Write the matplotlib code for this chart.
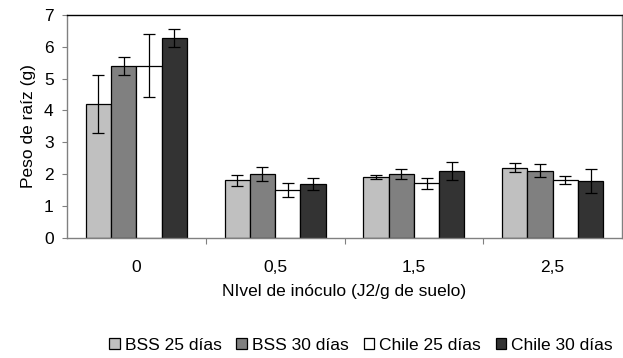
import numpy as np
import matplotlib
matplotlib.use("Agg")
import matplotlib.pyplot as plt

plt.rcParams['font.family'] = ['Liberation Sans', 'DejaVu Sans']

categories = ['0', '0,5', '1,5', '2,5']
series = ['BSS 25 días', 'BSS 30 días', 'Chile 25 días', 'Chile 30 días']
values = [
    [4.2, 1.8, 1.9, 2.2],
    [5.4, 2.0, 2.0, 2.1],
    [5.4, 1.5, 1.7, 1.8],
    [6.27, 1.68, 2.1, 1.77],
]
errors = [
    [0.92, 0.17, 0.07, 0.14],
    [0.28, 0.21, 0.15, 0.2],
    [0.99, 0.23, 0.18, 0.13],
    [0.29, 0.18, 0.28, 0.37],
]
colors = ['#C0C0C0', '#808080', '#FFFFFF', '#333333']

fig = plt.figure(figsize=(6.23, 3.58), dpi=100)
ax = fig.add_axes([67/623, 1 - 237.5/358, 555/623, 222.5/358])

x = np.arange(len(categories))
w = 0.182
for i, s in enumerate(series):
    ax.bar(x + (i - 1.5) * w, values[i], w, color=colors[i], edgecolor='black',
           linewidth=0.9, label=s, yerr=errors[i],
           error_kw=dict(ecolor='black', elinewidth=0.9, capsize=4, capthick=0.9))

ax.set_xlim(-0.5, 3.5)
ax.set_ylim(0, 7)
ax.set_yticks(range(0, 8))
ax.set_xticks(x)
ax.set_xticklabels(categories)
ax.set_xticks(np.arange(0.5, 3.5, 1), minor=True)
ax.tick_params(axis='x', which='major', length=0, labelsize=12.5, pad=16)
ax.tick_params(axis='x', which='minor', length=4.5, width=0.8, color='#808080', direction='out')
ax.tick_params(axis='y', labelsize=12.5, length=3.6, width=0.8, color='#808080', pad=6)
for sp in ['left', 'bottom', 'right']:
    ax.spines[sp].set_color('#808080')
ax.spines['top'].set_color('black')
for sp in ax.spines.values():
    sp.set_linewidth(1.0)

ax.set_ylabel('Peso de raíz (g)', fontsize=12.5, labelpad=6)
ax.set_xlabel('NIvel de inóculo (J2/g de suelo)', fontsize=12.5, labelpad=7)

fig.legend(loc='center', bbox_to_anchor=(361/623, 1 - 345/358), ncol=4, frameon=False,
           fontsize=12.5, handlelength=0.6, handleheight=0.6, handletextpad=0.3,
           columnspacing=0.85, borderpad=0)

fig.savefig('out.png', dpi=100)
